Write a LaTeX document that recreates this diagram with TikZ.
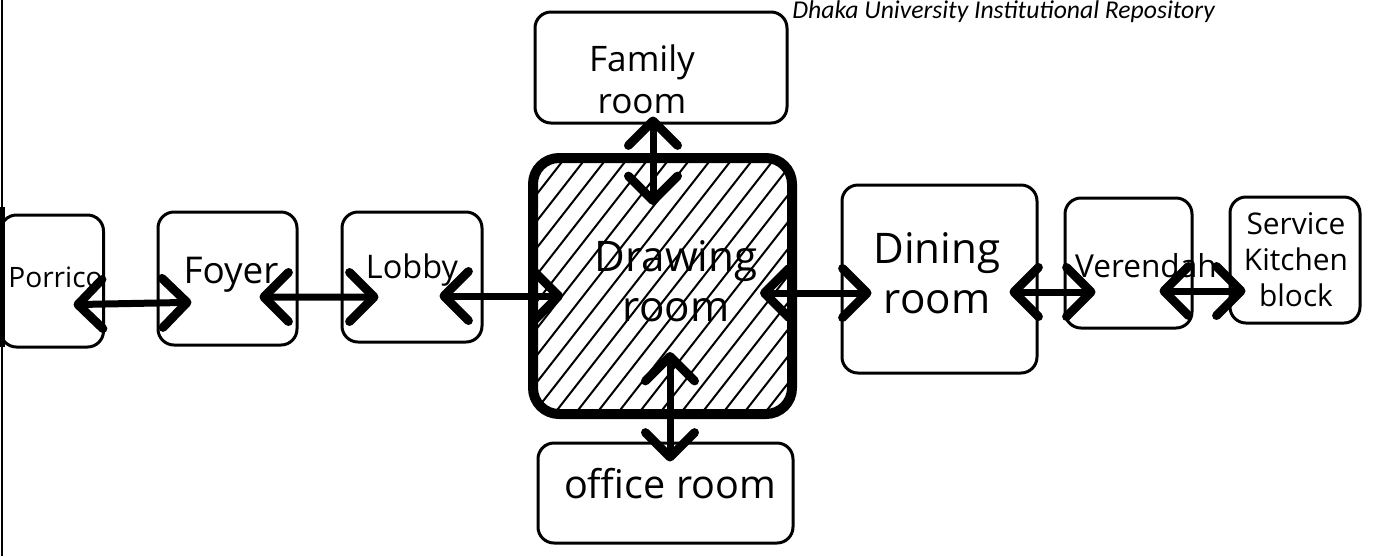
\documentclass[tikz,border=0pt]{standalone}
\usepackage{fontspec}
\setmainfont{Open Sans}
\newfontfamily\hdrfont{Carlito}
\usetikzlibrary{arrows.meta}
\newlength\pu
\setlength\pu{0.02cm}
\begin{document}
\begin{tikzpicture}[x=0.02cm,y=-0.02cm,
  room/.style={draw, line width=3\pu, rounded corners=16\pu, inner sep=0pt},
  mainroom/.style={room, line width=10\pu, rounded corners=26\pu},
  lbl/.style={inner sep=0pt, align=center},
  arr/.style={line width=7\pu, {Straight Barb[length=14pt,width=28pt,line width=5pt,round]}-{Straight Barb[length=14pt,width=28pt,line width=5pt,round]}},
  hatch/.style={line width=2\pu},
  fs/.style n args={2}{font=\fontsize{#1}{#2}\selectfont},
]
\useasboundingbox (0,0) rectangle (1374,556);
\fill[white] (0,0) rectangle (1374,556);

% header
\node[anchor=north west, inner sep=0pt, font=\hdrfont\itshape\fontsize{14.6}{16}\selectfont] (hdr) at (792,0) {Dhaka University Institutional Repository};

% rooms
\node[room, minimum width=103\pu, minimum height=132\pu] (porch) at (52,281) {};
\node[room, minimum width=139\pu, minimum height=133\pu] (foyer) at (227.5,278.5) {};
\node[room, minimum width=140\pu, minimum height=130\pu] (lobby) at (412,277) {};
\node[mainroom, minimum width=259\pu, minimum height=256\pu,
      path picture={\foreach \i in {-10,...,13}{\draw[hatch] ([xshift=\i*21\pu]path picture bounding box.south west) -- ++(200\pu,256\pu);}}]
      (drawing) at (662.5,286) {};
\node[room, minimum width=252\pu, minimum height=111\pu] (family) at (661,67.5) {};
\node[room, minimum width=255\pu, minimum height=100\pu] (office) at (665.5,493) {};
\node[room, minimum width=195\pu, minimum height=188\pu] (dining) at (939.5,279) {};
\node[room, minimum width=127\pu, minimum height=130\pu] (verendah) at (1128.5,263) {};
\node[room, minimum width=130\pu, minimum height=126\pu] (service) at (1295,260) {};

% scanned page edge on the left
\draw[line width=2\pu] (2,0) -- (2,556);
\fill (0,207) rectangle (5,347);

% labels
\node[lbl, anchor=base west, fs={16}{18}] (porch-t) at (8,287) {Porrico};
\node[lbl, anchor=base, fs={21}{23}] (foyer-t) at (231,283) {Foyer};
\node[lbl, anchor=base, fs={18.5}{20}] (lobby-t) at (412,278) {Lobby};
\node[lbl, fs={24}{28.5}] (drawing-t) at (676,281) {Drawing\\room};
\node[lbl, fs={20}{24}] (family-t) at (642,79) {Family\\room};
\node[lbl, anchor=base, fs={22.5}{24}] (office-t) at (670,498) {office room};
\node[lbl, fs={24}{28.5}] (dining-t) at (937,273) {Dining\\room};
\node[lbl, anchor=base, fs={18}{20}] (verendah-t) at (1146,277) {Verendah};
\node[lbl, fs={17}{20.5}] (service-t) at (1296,260) {Service\\Kitchen\\block};

% connectors
\draw[arr, shorten <=-31.5\pu, shorten >=-35\pu] ([yshift=-23\pu]porch.east) -- ([yshift=-24.5\pu]foyer.west);
\draw[arr, shorten <=-39\pu, shorten >=-38\pu] ([yshift=-18.5\pu]foyer.east) -- ([yshift=-20\pu]lobby.west);
\draw[arr, shorten <=-44\pu, shorten >=-35\pu] ([yshift=-19\pu]lobby.east) -- ([yshift=-10\pu]drawing.west);
\draw[arr, shorten <=-37\pu, shorten >=-31\pu] ([yshift=-7\pu]drawing.east) -- ([yshift=-14\pu]dining.west);
\draw[arr, shorten <=-29\pu, shorten >=-32\pu] ([yshift=-13\pu]dining.east) -- ([yshift=-29\pu]verendah.west);
\draw[arr, shorten <=-34\pu, shorten >=-17\pu] ([yshift=-28\pu]verendah.east) -- ([yshift=-31\pu]service.west);
\draw[arr, shorten <=-8\pu, shorten >=-52\pu] ([xshift=-8\pu]family.south) -- ([xshift=-9.5\pu]drawing.north);
\draw[arr, shorten <=-67\pu, shorten >=-20\pu] ([xshift=7.5\pu]drawing.south) -- ([xshift=4.5\pu]office.north);
\end{tikzpicture}
\end{document}
